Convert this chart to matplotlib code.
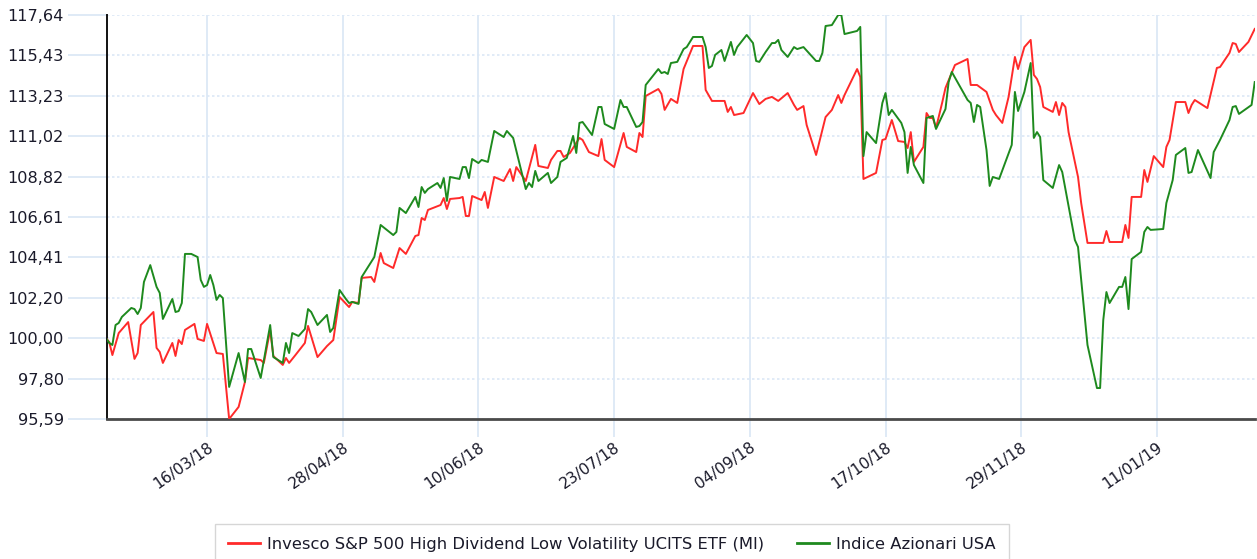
import matplotlib
matplotlib.use("Agg")
import matplotlib.pyplot as plt
import matplotlib.dates as mdates
from matplotlib.lines import Line2D
import pandas as pd

plt.rcParams['font.family'] = ['DejaVu Sans']

# ---------------- data ----------------
etf_dates = [
 "2018-02-12","2018-02-13","2018-02-14","2018-02-16","2018-02-19","2018-02-21","2018-02-22","2018-02-23",
 "2018-02-27","2018-02-28","2018-03-01","2018-03-02","2018-03-05","2018-03-06","2018-03-07","2018-03-08",
 "2018-03-09","2018-03-12","2018-03-13","2018-03-15","2018-03-16","2018-03-19","2018-03-21","2018-03-23",
 "2018-03-26","2018-03-28","2018-03-29","2018-04-02","2018-04-03","2018-04-05","2018-04-06","2018-04-09",
 "2018-04-10","2018-04-11","2018-04-13","2018-04-16","2018-04-17","2018-04-20","2018-04-23","2018-04-25",
 "2018-04-27","2018-04-30","2018-05-01","2018-05-03","2018-05-04","2018-05-07","2018-05-08","2018-05-10",
 "2018-05-11","2018-05-14","2018-05-16","2018-05-18","2018-05-21","2018-05-22","2018-05-23","2018-05-24",
 "2018-05-25","2018-05-29","2018-05-30","2018-05-31","2018-06-01","2018-06-04","2018-06-05","2018-06-06",
 "2018-06-07","2018-06-08","2018-06-11","2018-06-12","2018-06-13","2018-06-15","2018-06-18","2018-06-20",
 "2018-06-21","2018-06-22","2018-06-25","2018-06-28","2018-06-29","2018-07-02","2018-07-03","2018-07-05",
 "2018-07-06","2018-07-07","2018-07-09","2018-07-12","2018-07-13","2018-07-15","2018-07-18","2018-07-19",
 "2018-07-20","2018-07-23","2018-07-26","2018-07-27","2018-07-30","2018-07-31","2018-08-01","2018-08-02",
 "2018-08-06","2018-08-07","2018-08-08","2018-08-10","2018-08-12","2018-08-14","2018-08-17","2018-08-20",
 "2018-08-21","2018-08-23","2018-08-27","2018-08-28","2018-08-29","2018-08-30","2018-09-02","2018-09-05",
 "2018-09-07","2018-09-09","2018-09-11","2018-09-13","2018-09-16","2018-09-18","2018-09-19","2018-09-21",
 "2018-09-22","2018-09-25","2018-09-28","2018-09-30","2018-10-02","2018-10-03","2018-10-04","2018-10-08",
 "2018-10-09","2018-10-10","2018-10-14","2018-10-16","2018-10-17","2018-10-19","2018-10-21","2018-10-23",
 "2018-10-24","2018-10-25","2018-10-26","2018-10-29","2018-10-30","2018-10-31","2018-11-01","2018-11-02",
 "2018-11-04","2018-11-05","2018-11-08","2018-11-12","2018-11-13","2018-11-15","2018-11-18","2018-11-20",
 "2018-11-21","2018-11-23","2018-11-25","2018-11-27","2018-11-28","2018-11-30","2018-12-02","2018-12-03",
 "2018-12-04","2018-12-05","2018-12-06","2018-12-09","2018-12-10","2018-12-11","2018-12-12","2018-12-13",
 "2018-12-14","2018-12-17","2018-12-18","2018-12-20","2018-12-25","2018-12-26","2018-12-27","2018-12-31",
 "2019-01-01","2019-01-02","2019-01-03","2019-01-06","2019-01-07","2019-01-08","2019-01-10","2019-01-13",
 "2019-01-14","2019-01-15","2019-01-17","2019-01-20","2019-01-21","2019-01-22","2019-01-23","2019-01-27",
 "2019-01-30","2019-01-31","2019-02-03","2019-02-04","2019-02-05","2019-02-06","2019-02-09","2019-02-11",
]
etf_values = [
 100.00, 99.79, 99.08,100.28,100.88, 98.87, 99.19,100.72,
 101.43, 99.47, 99.25, 98.65, 99.74, 99.03, 99.90, 99.68,
 100.45,100.78, 99.96, 99.85,100.78, 99.19, 99.14, 95.59,
 96.25, 97.61, 98.92, 98.81, 98.65,100.45, 99.03, 98.54,
 98.92, 98.65, 99.08, 99.74,100.67, 98.97, 99.57, 99.90,
 102.25,101.70,101.98,101.92,103.29,103.34,103.07,104.65,
 104.10,103.83,104.92,104.60,105.58,105.63,106.56,106.45,
 107.00,107.27,107.65,107.05,107.60,107.65,107.71,106.67,
 106.67,107.76,107.54,107.98,107.11,108.80,108.58,109.23,
 108.58,109.34,108.58,110.55,109.40,109.29,109.73,110.22,
 110.22,109.89,110.11,110.93,110.82,110.16,109.94,110.87,
 109.73,109.34,111.20,110.44,110.16,111.20,110.98,113.22,
 113.60,113.33,112.46,113.06,112.84,114.69,115.95,115.95,
 113.55,112.95,112.95,112.35,112.62,112.18,112.29,113.38,
 112.78,113.06,113.17,112.95,113.38,112.73,112.46,112.67,
 111.64,110.00,112.07,112.46,113.27,112.84,113.27,114.69,
 114.26,108.69,109.02,110.82,110.87,111.91,110.76,110.71,
 110.38,111.25,109.62,110.44,112.29,112.02,112.02,111.47,
 112.89,113.66,114.91,115.24,113.82,113.82,113.44,112.46,
 112.18,111.75,113.17,115.35,114.69,115.89,116.28,114.37,
 114.15,113.71,112.62,112.35,112.89,112.18,112.84,112.62,
 111.25,108.80,107.38,105.20,105.20,105.85,105.25,105.25,
 106.18,105.47,107.71,107.71,109.18,108.53,109.94,109.34,
 110.44,110.82,112.89,112.89,112.29,112.73,113.00,112.56,
 114.75,114.80,115.57,116.11,116.06,115.62,116.17,116.88,
]

index_dates = [
 "2018-02-12","2018-02-13","2018-02-14","2018-02-15","2018-02-16","2018-02-17","2018-02-20","2018-02-21",
 "2018-02-22","2018-02-23","2018-02-24","2018-02-26","2018-02-28","2018-03-01","2018-03-02","2018-03-05",
 "2018-03-06","2018-03-07","2018-03-08","2018-03-09","2018-03-11","2018-03-13","2018-03-14","2018-03-15",
 "2018-03-16","2018-03-17","2018-03-18","2018-03-19","2018-03-20","2018-03-21","2018-03-23","2018-03-26",
 "2018-03-28","2018-03-29","2018-03-30","2018-04-02","2018-04-05","2018-04-06","2018-04-09","2018-04-10",
 "2018-04-11","2018-04-12","2018-04-14","2018-04-16","2018-04-17","2018-04-18","2018-04-20","2018-04-23",
 "2018-04-24","2018-04-25","2018-04-27","2018-04-29","2018-04-30","2018-05-01","2018-05-03","2018-05-04",
 "2018-05-08","2018-05-10","2018-05-14","2018-05-15","2018-05-16","2018-05-18","2018-05-21","2018-05-22",
 "2018-05-23","2018-05-24","2018-05-25","2018-05-28","2018-05-29","2018-05-30","2018-05-31","2018-06-01",
 "2018-06-04","2018-06-05","2018-06-06","2018-06-07","2018-06-08","2018-06-10","2018-06-11","2018-06-13",
 "2018-06-15","2018-06-18","2018-06-19","2018-06-21","2018-06-25","2018-06-26","2018-06-27","2018-06-28",
 "2018-06-29","2018-07-02","2018-07-03","2018-07-05","2018-07-06","2018-07-08","2018-07-10","2018-07-11",
 "2018-07-12","2018-07-13","2018-07-16","2018-07-18","2018-07-19","2018-07-20","2018-07-23","2018-07-25",
 "2018-07-26","2018-07-27","2018-07-30","2018-07-31","2018-08-01","2018-08-02","2018-08-06","2018-08-07",
 "2018-08-08","2018-08-09","2018-08-10","2018-08-12","2018-08-14","2018-08-15","2018-08-17","2018-08-20",
 "2018-08-21","2018-08-22","2018-08-23","2018-08-24","2018-08-26","2018-08-27","2018-08-29","2018-08-30",
 "2018-08-31","2018-09-03","2018-09-05","2018-09-06","2018-09-07","2018-09-09","2018-09-11","2018-09-12",
 "2018-09-13","2018-09-14","2018-09-16","2018-09-18","2018-09-19","2018-09-21","2018-09-25","2018-09-26",
 "2018-09-27","2018-09-28","2018-09-30","2018-10-02","2018-10-03","2018-10-04","2018-10-08","2018-10-09",
 "2018-10-10","2018-10-11","2018-10-14","2018-10-16","2018-10-17","2018-10-18","2018-10-19","2018-10-22",
 "2018-10-23","2018-10-24","2018-10-25","2018-10-26","2018-10-29","2018-10-30","2018-11-01","2018-11-02",
 "2018-11-05","2018-11-06","2018-11-07","2018-11-12","2018-11-13","2018-11-14","2018-11-15","2018-11-16",
 "2018-11-18","2018-11-19","2018-11-20","2018-11-22","2018-11-26","2018-11-27","2018-11-28","2018-11-30",
 "2018-12-02","2018-12-03","2018-12-04","2018-12-05","2018-12-06","2018-12-09","2018-12-11","2018-12-12",
 "2018-12-16","2018-12-17","2018-12-20","2018-12-23","2018-12-24","2018-12-25","2018-12-26","2018-12-27",
 "2018-12-30","2018-12-31","2019-01-01","2019-01-02","2019-01-03","2019-01-06","2019-01-07","2019-01-08",
 "2019-01-09","2019-01-13","2019-01-14","2019-01-16","2019-01-17","2019-01-20","2019-01-21","2019-01-22",
 "2019-01-24","2019-01-28","2019-01-29","2019-01-31","2019-02-03","2019-02-04","2019-02-05","2019-02-06",
 "2019-02-10","2019-02-11",
]
index_values = [
 100.00, 99.74, 99.63,100.72,100.83,101.16,101.65,101.59,
 101.32,101.65,103.07,103.99,102.80,102.47,101.05,102.14,
 101.43,101.48,101.92,104.60,104.60,104.43,103.18,102.80,
 102.90,103.45,102.90,102.09,102.36,102.19, 97.34, 99.19,
 97.61, 99.41, 99.41, 97.83,100.72, 98.97, 98.65, 99.74,
 99.19,100.28,100.12,100.50,101.59,101.43,100.72,101.27,
 100.34,100.56,102.63,102.14,101.92,101.98,101.87,103.34,
 104.43,106.18,105.63,105.80,107.11,106.83,107.71,107.16,
 108.25,107.93,108.14,108.47,108.20,108.74,107.49,108.80,
 108.69,109.34,109.34,108.74,109.78,109.56,109.73,109.62,
 111.31,110.98,111.31,110.93,108.14,108.47,108.25,109.13,
 108.58,109.02,108.47,108.80,109.62,109.84,111.04,110.11,
 111.75,111.80,111.09,112.62,112.62,111.69,111.42,113.00,
 112.62,112.62,111.53,111.58,111.80,113.82,114.69,114.47,
 114.53,114.42,115.02,115.08,115.78,115.89,116.44,116.44,
 115.89,114.75,114.86,115.46,115.73,115.13,116.17,115.46,
 115.89,116.55,116.11,115.13,115.08,115.62,116.11,116.11,
 116.28,115.73,115.35,115.89,115.78,115.89,115.13,115.13,
 115.57,117.04,117.09,117.64,117.64,116.60,116.77,116.99,
 109.94,111.25,110.65,112.84,113.38,112.18,112.46,111.75,
 111.25,109.02,110.44,109.45,108.47,112.02,112.13,111.42,
 112.51,113.98,114.53,113.00,112.84,111.80,112.73,112.62,
 110.27,108.31,108.80,108.69,110.55,113.44,112.40,113.44,
 115.02,110.93,111.25,110.98,108.63,108.20,109.45,109.07,
 105.36,104.98, 99.63, 97.28, 97.28,100.99,102.52,101.92,
 102.80,102.80,103.34,101.59,104.32,104.71,105.80,106.07,
 105.91,105.96,107.38,108.63,110.00,110.38,109.02,109.07,
 110.27,108.74,110.16,110.82,111.91,112.62,112.67,112.24,
 112.73,113.98,
]

series_names = ["Invesco S&P 500 High Dividend Low Volatility UCITS ETF (MI)",
                "Indice Azionari USA"]
y_tick_labels = ["95,59", "97,80", "100,00", "102,20", "104,41", "106,61",
                 "108,82", "111,02", "113,23", "115,43", "117,64"]
x_tick_dates = ["2018-03-16", "2018-04-28", "2018-06-10", "2018-07-23",
                "2018-09-04", "2018-10-17", "2018-11-29", "2019-01-11"]

# ---------------- styling ----------------
RED = "#ff2a2a"
GREEN = "#1e8a1e"
GRID = "#dce8f6"
TEXT = "#1a1a2a"
FS_Y = 11.6
FS_X = 11.2
FS_LEG = 11.8

fig = plt.figure(figsize=(12.57, 5.59), dpi=100)
ax = fig.add_axes([107/1257, 1-419/559, (1255-107)/1257, (419-15)/559])

ax.plot(pd.to_datetime(etf_dates), etf_values, color=RED, lw=1.4,
        solid_joinstyle='round', zorder=3)
ax.plot(pd.to_datetime(index_dates), index_values, color=GREEN, lw=1.4,
        solid_joinstyle='round', zorder=4)

yt = [float(s.replace(",", ".")) for s in y_tick_labels]
ax.set_ylim(yt[0], yt[-1])
ax.set_yticks(yt)
ax.set_yticklabels(y_tick_labels)

ax.set_xlim(pd.Timestamp("2018-02-12 07:00"), pd.Timestamp("2019-02-11 02:00"))
ax.set_xticks(pd.to_datetime(x_tick_dates))
ax.xaxis.set_major_formatter(mdates.DateFormatter("%d/%m/%y"))

ax.set_axisbelow(True)
ax.yaxis.grid(True, color=GRID, linestyle=(0, (1.5, 1.5)), lw=1.2)
ax.xaxis.grid(True, color=GRID, linestyle="-", lw=1.3)

for s in ("top", "right"):
    ax.spines[s].set_visible(False)
ax.spines["left"].set_color("#111111")
ax.spines["left"].set_linewidth(1.4)
ax.spines["bottom"].set_color("#4a4a4a")
ax.spines["bottom"].set_linewidth(2.0)

ax.tick_params(axis="y", length=28, width=1.3, color=GRID, pad=3,
               labelsize=FS_Y, labelcolor=TEXT)
ax.tick_params(axis="x", length=13, width=1.3, color=GRID, pad=2,
               labelsize=FS_X, labelcolor=TEXT)
for lab in ax.get_xticklabels():
    lab.set_rotation(35)
    lab.set_ha("right")
    lab.set_va("top")
    lab.set_rotation_mode("anchor")

handles = [Line2D([], [], color=RED, lw=2), Line2D([], [], color=GREEN, lw=2)]
leg = fig.legend(handles, series_names, loc="upper left",
                 bbox_to_anchor=(215/1257, 1-524/559), ncol=2,
                 frameon=True, fancybox=False, edgecolor="#cccccc",
                 fontsize=FS_LEG, handlelength=1.95, handletextpad=0.43,
                 columnspacing=2.0, borderaxespad=0, borderpad=0.8)
leg.get_frame().set_linewidth(1.0)
for t in leg.get_texts():
    t.set_color(TEXT)

fig.savefig("out.png", dpi=100)
